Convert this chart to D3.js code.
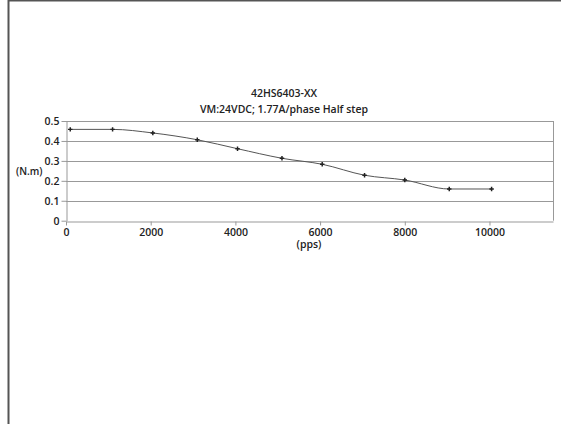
<!DOCTYPE html>
<html>
<head>
<meta charset="utf-8">
<script src="https://cdn.jsdelivr.net/npm/d3@7"></script>
<style>
  html, body { margin: 0; padding: 0; background: #fff; }
  svg { display: block; }
  text { font-family: "Open Sans", "Noto Sans", sans-serif; fill: #222; }
</style>
</head>
<body>
<svg id="chart" width="561" height="424"></svg>
<script>
const titleLines = ["42HS6403-XX", "VM:24VDC; 1.77A/phase Half step"];
const yLabel = "(N.m)";
const xLabel = "(pps)";
const speedPps = [100, 1100, 2050, 3100, 4050, 5100, 6050, 7050, 8000, 9050, 10050];
const torqueNm = [0.458, 0.458, 0.44, 0.406, 0.361, 0.313, 0.283, 0.228, 0.204, 0.159, 0.159];
const xTicks = [0, 2000, 4000, 6000, 8000, 10000];
const yTicks = [0, 0.1, 0.2, 0.3, 0.4, 0.5];
const xDomain = [0, 11500];
const yDomain = [0, 0.5];

const svg = d3.select("#chart");

// outer frame (top and left edges)
svg.append("line").attr("x1", 8).attr("x2", 561).attr("y1", 0.5).attr("y2", 0.5)
  .attr("stroke", "#555").attr("stroke-width", 2);
svg.append("line").attr("x1", 8.5).attr("x2", 8.5).attr("y1", 0).attr("y2", 424)
  .attr("stroke", "#555").attr("stroke-width", 2);

const plot = { left: 66, right: 553, top: 121, bottom: 220.7 };
const x = d3.scaleLinear().domain(xDomain).range([plot.left, plot.right]);
const y = d3.scaleLinear().domain(yDomain).range([plot.bottom, plot.top]);

// gridlines
svg.append("g").selectAll("line").data(yTicks.filter(d => d > 0)).join("line")
  .attr("x1", plot.left).attr("x2", plot.right)
  .attr("y1", d => Math.round(y(d)) + 0.5).attr("y2", d => Math.round(y(d)) + 0.5)
  .attr("stroke", "#999").attr("stroke-width", 1);
// right border
svg.append("line").attr("x1", plot.right + 0.5).attr("x2", plot.right + 0.5)
  .attr("y1", plot.top).attr("y2", plot.bottom).attr("stroke", "#999");

// axes
const yAxis = d3.axisLeft(y).tickValues(yTicks).tickFormat(d => d === 0 ? "0" : d3.format(".1f")(d))
  .tickSizeInner(5).tickSizeOuter(0).tickPadding(2);
const gy = svg.append("g").attr("transform", `translate(${plot.left + 0.5},0)`).call(yAxis);
gy.select(".domain").attr("stroke", "#999");
gy.selectAll(".tick line").attr("stroke", "#999");
gy.selectAll(".tick text").attr("font-size", 10.5).attr("font-weight", 600)
  .attr("font-family", "'Open Sans', sans-serif").attr("fill", "#222");

const xAxis = d3.axisBottom(x).tickValues(xTicks).tickFormat(d3.format("d"))
  .tickSizeInner(4).tickSizeOuter(0).tickPadding(3);
const gx = svg.append("g").attr("transform", `translate(0,${Math.round(plot.bottom) + 0.5})`).call(xAxis);
gx.select(".domain").attr("stroke", "#999");
gx.selectAll(".tick line").attr("stroke", "#999");
gx.selectAll(".tick text").attr("font-size", 10.5).attr("font-weight", 600)
  .attr("font-family", "'Open Sans', sans-serif").attr("fill", "#222");

// data line
const pts = speedPps.map((s, i) => [s, torqueNm[i]]);
const line = d3.line().x(d => x(d[0])).y(d => y(d[1])).curve(d3.curveMonotoneX);
svg.append("path").datum(pts).attr("d", line)
  .attr("fill", "none").attr("stroke", "#555").attr("stroke-width", 1);
svg.append("g").selectAll("path").data(pts).join("path")
  .attr("transform", d => `translate(${x(d[0])},${y(d[1])})`)
  .attr("d", d3.symbol().type(d3.symbolCross).size(11))
  .attr("fill", "#222");

// titles
svg.append("g").selectAll("text").data(titleLines).join("text")
  .attr("x", 284).attr("y", (d, i) => 96.5 + i * 16.5)
  .attr("text-anchor", "middle").attr("font-size", 10.5).attr("font-weight", 600)
  .text(d => d);

svg.append("text").attr("x", 16).attr("y", 175)
  .attr("font-size", 10).attr("font-weight", 600).text(yLabel);
svg.append("text").attr("x", 309).attr("y", 248)
  .attr("text-anchor", "middle").attr("font-size", 10.5).attr("font-weight", 600).text(xLabel);
</script>
</body>
</html>
